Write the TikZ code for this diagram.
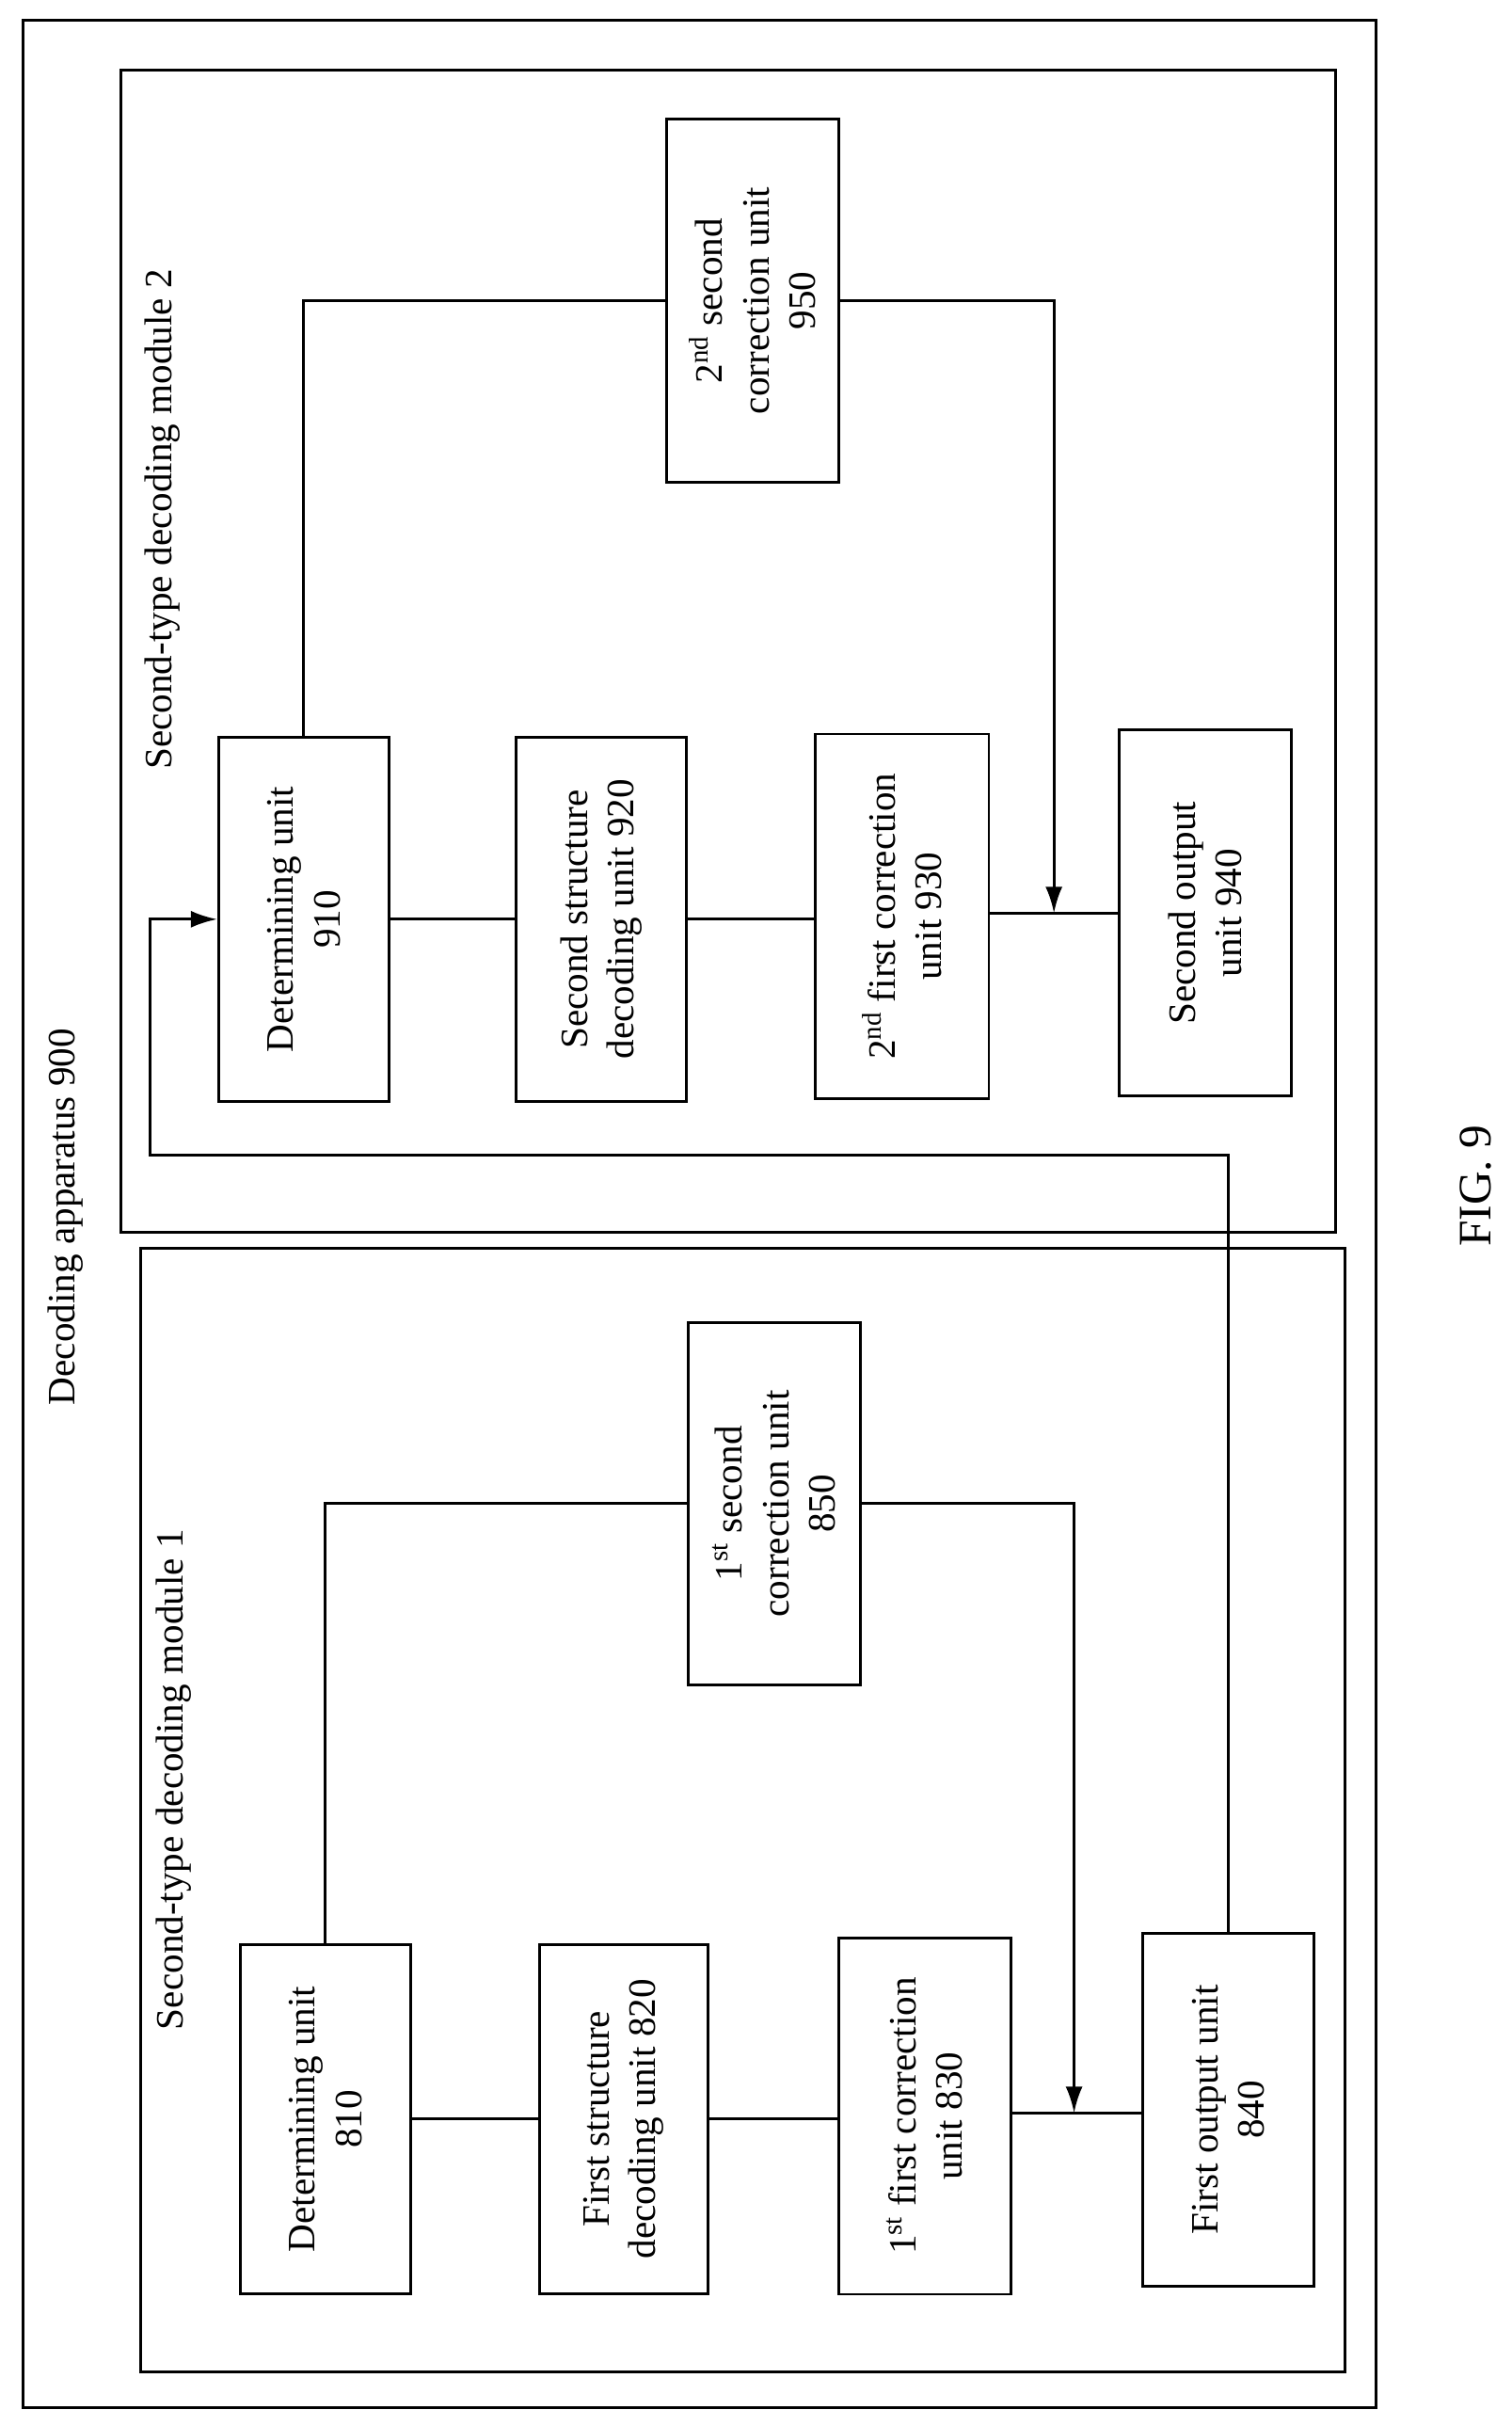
\documentclass[tikz,border=0pt]{standalone}
\usepackage{fontspec}
\setmainfont{Liberation Serif}
\usetikzlibrary{arrows.meta}
\begin{document}
\begin{tikzpicture}[x=1pt,y=-1pt,line width=1.8pt,
  box/.style={draw,rotate=90,align=center,inner sep=0pt,font=\fontsize{25}{30}\selectfont},
  lbl/.style={rotate=90,font=\fontsize{25}{30}\selectfont},
  arr/.style={-{Latex[length=17pt,width=11pt]}}]
\useasboundingbox (0,0) rectangle (975,1565);
\node[draw,minimum width=873,minimum height=1540,inner sep=0pt] (outer) at (451.5,783) {};
\node[draw,minimum width=784,minimum height=750,inner sep=0pt] (m2) at (470,420) {};
\node[draw,minimum width=777,minimum height=725,inner sep=0pt] (m1) at (479.5,1167.5) {};
\node[lbl] (t0) at (42,785) {Decoding apparatus 900};
\node[lbl] (t2) at (105,335) {Second-type decoding module 2};
\node[lbl] (t1) at (112,1148) {Second-type decoding module 1};
\node[lbl,font=\fontsize{30}{36}\selectfont] (fig) at (952,765) {FIG. 9};
% module 2
\node[box,minimum width=235,minimum height=110] (n910) at (196,593) {Determining unit\\910};
\node[box,minimum width=235,minimum height=110] (n920) at (388,593) {Second structure\\decoding unit 920};
\node[box,minimum width=235,minimum height=112] (n930) at (582,591) {2\textsuperscript{nd} first correction\\unit 930};
\node[box,minimum width=236,minimum height=111] (n940) at (777.5,589) {Second output\\unit 940};
\node[box,minimum width=234,minimum height=111] (n950) at (485.5,194) {2\textsuperscript{nd} second\\correction unit\\950};
\coordinate (j2) at (680,589);
\draw (n910.south) -- (n920.north |- n910.south);
\draw (n920.south) -- (n930.north |- n920.south);
\draw (n930.south |- j2) -- (n940.north |- j2);
\draw (n910.east) |- (n950.north);
\draw[arr] (n950.south) -| (j2);
% module 1
\node[box,minimum width=225,minimum height=110] (n810) at (210,1367) {Determining unit\\810};
\node[box,minimum width=225,minimum height=109] (n820) at (402.5,1367) {First structure\\decoding unit 820};
\node[box,minimum width=230,minimum height=111] (n830) at (596.5,1365) {1\textsuperscript{st} first correction\\unit 830};
\node[box,minimum width=228,minimum height=111] (n840) at (792.5,1361) {First output unit\\840};
\node[box,minimum width=234,minimum height=111] (n850) at (499.5,970) {1\textsuperscript{st} second\\correction unit\\850};
\coordinate (j1) at (693,1363);
\draw (n810.south) -- (n820.north |- n810.south);
\draw (n820.south) -- (n830.north |- n820.south);
\draw (n830.south |- j1) -- (n840.north |- j1);
\draw (n810.east) |- (n850.north);
\draw[arr] (n850.south) -| (j1);
% feedback
\coordinate (c1) at (792.5,745);
\coordinate (c2) at (97,745);
\draw[arr] (n840.east) -- (c1) -- (c2) |- (n910.north);
\end{tikzpicture}
\end{document}
